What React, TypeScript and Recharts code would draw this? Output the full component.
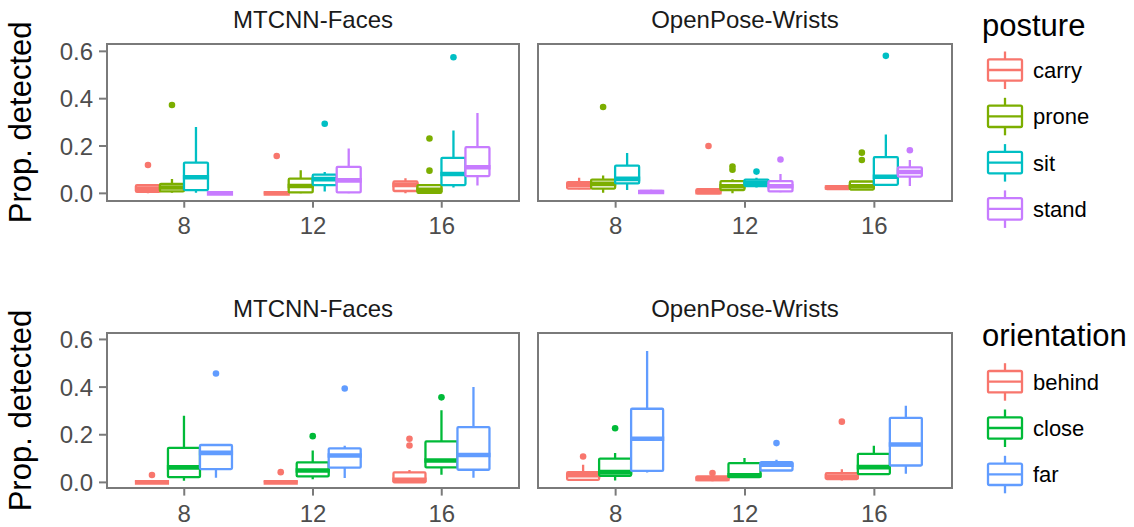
import { Bar, BarChart, XAxis, YAxis } from 'recharts';

// lower whisker, q1, median, q3, upper whisker, outliers
type Box = [number, number, number, number, number, number[]];

const AGES = ['8', '12', '16'];
const PANELS = ['MTCNN-Faces', 'OpenPose-Wrists'];
const Y_TICKS = [0, 0.2, 0.4, 0.6];

const POSTURES = ['carry', 'prone', 'sit', 'stand'];
const POSTURE_COLORS = ['#F8766D', '#7CAE00', '#00BFC4', '#C77CFF'];
const ORIENTATIONS = ['behind', 'close', 'far'];
const ORIENTATION_COLORS = ['#F8766D', '#00BA38', '#619CFF'];

// MTCNN-Faces by posture
const FACES_CARRY: Box[] = [
  [0, 0.006, 0.02, 0.035, 0.04, [0.12]],
  [0, 0, 0, 0.002, 0.003, [0.158]],
  [0, 0.01, 0.035, 0.05, 0.064, []],
];
const FACES_PRONE: Box[] = [
  [0.003, 0.008, 0.025, 0.04, 0.061, [0.373]],
  [0, 0.004, 0.031, 0.062, 0.098, []],
  [0, 0.002, 0.015, 0.035, 0.04, [0.096, 0.232]],
];
const FACES_SIT: Box[] = [
  [0.003, 0.014, 0.068, 0.13, 0.28, []],
  [0.008, 0.035, 0.06, 0.079, 0.09, [0.294]],
  [0.025, 0.035, 0.082, 0.15, 0.266, [0.575]],
];
const FACES_STAND: Box[] = [
  [0, 0, 0, 0.002, 0.003, []],
  [0, 0.004, 0.055, 0.112, 0.19, []],
  [0.033, 0.073, 0.11, 0.195, 0.339, []],
];

// OpenPose-Wrists by posture
const WRISTS_CARRY: Box[] = [
  [0.017, 0.02, 0.035, 0.047, 0.066, []],
  [0, 0, 0.005, 0.018, 0.02, [0.2]],
  [0.015, 0.018, 0.025, 0.03, 0.032, []],
];
const WRISTS_PRONE: Box[] = [
  [0.003, 0.02, 0.04, 0.058, 0.075, [0.365]],
  [0, 0.014, 0.03, 0.052, 0.06, [0.1, 0.113]],
  [0.014, 0.016, 0.03, 0.05, 0.05, [0.141, 0.172]],
];
const WRISTS_SIT: Box[] = [
  [0.014, 0.042, 0.061, 0.117, 0.17, []],
  [0.025, 0.031, 0.045, 0.058, 0.066, [0.092]],
  [0.034, 0.036, 0.07, 0.153, 0.249, [0.581]],
];
const WRISTS_STAND: Box[] = [
  [0, 0.002, 0.006, 0.01, 0.015, []],
  [0.005, 0.008, 0.03, 0.052, 0.082, [0.143]],
  [0.031, 0.071, 0.09, 0.11, 0.141, [0.182]],
];

// MTCNN-Faces by orientation
const FACES_BEHIND: Box[] = [
  [0, 0, 0, 0.005, 0.005, [0.031]],
  [0, 0, 0, 0.005, 0.005, [0.043]],
  [0, 0, 0.011, 0.042, 0.052, [0.155, 0.183]],
];
const FACES_CLOSE: Box[] = [
  [0.007, 0.022, 0.063, 0.145, 0.28, []],
  [0.013, 0.025, 0.05, 0.084, 0.134, [0.194]],
  [0.032, 0.063, 0.092, 0.172, 0.303, [0.357]],
];
const FACES_FAR: Box[] = [
  [0.02, 0.056, 0.124, 0.157, 0.157, [0.457]],
  [0.018, 0.062, 0.113, 0.143, 0.154, [0.394]],
  [0.02, 0.053, 0.115, 0.232, 0.4, []],
];

// OpenPose-Wrists by orientation
const WRISTS_BEHIND: Box[] = [
  [0.008, 0.011, 0.03, 0.043, 0.074, [0.109]],
  [0.005, 0.01, 0.015, 0.025, 0.025, [0.039]],
  [0.008, 0.014, 0.025, 0.039, 0.055, [0.255]],
];
const WRISTS_CLOSE: Box[] = [
  [0.008, 0.028, 0.043, 0.1, 0.123, [0.227]],
  [0.022, 0.022, 0.03, 0.081, 0.102, []],
  [0.035, 0.035, 0.064, 0.12, 0.154, []],
];
const WRISTS_FAR: Box[] = [
  [0.042, 0.048, 0.183, 0.309, 0.551, []],
  [0.05, 0.05, 0.074, 0.085, 0.095, [0.165]],
  [0.036, 0.071, 0.159, 0.271, 0.322, []],
];

const FONT = "'Liberation Sans', Arial, Helvetica, sans-serif";
const GREY = '#7a7a7a';
const TICK_TEXT = '#4d4d4d';
const BORDER = 2;
const BOX_LINE = 2.3;

// plot rectangles (px)
const COL_X = [107, 538];
const COL_W = [412, 414];
const ROW_Y = [44, 332.7];
const ROW_H = [156.7, 155.6];
const Y_DOMAINS: [number, number][] = [
  [-0.031, 0.631],
  [-0.026, 0.627],
];

function BoxShape(props: any) {
  const { x, y, width, height, box, color } = props;
  if (!box) return null;
  const [lower, q1, med, q3, upper, outliers] = box as Box;
  const lo = Math.min(lower, ...outliers);
  const hi = Math.max(upper, ...outliers);
  const top = Math.min(y, y + height);
  const bottom = Math.max(y, y + height);
  const py = (v: number) => (hi > lo ? bottom - ((v - lo) / (hi - lo)) * (bottom - top) : bottom);
  const cx = x + width / 2;
  return (
    <g>
      <line x1={cx} x2={cx} y1={py(upper)} y2={py(q3)} stroke={color} strokeWidth={BOX_LINE} />
      <line x1={cx} x2={cx} y1={py(q1)} y2={py(lower)} stroke={color} strokeWidth={BOX_LINE} />
      {py(q1) - py(q3) > 0.01 && (
        <rect
          x={x}
          y={py(q3)}
          width={width}
          height={py(q1) - py(q3)}
          fill="#fff"
          stroke={color}
          strokeWidth={BOX_LINE}
          rx={1}
        />
      )}
      <line x1={x - 1.1} x2={x + width + 1.1} y1={py(med)} y2={py(med)} stroke={color} strokeWidth={4.6} />
      {outliers.map((o, i) => (
        <circle key={i} cx={cx} cy={py(o)} r={3.3} fill={color} />
      ))}
    </g>
  );
}

function Panel({
  col,
  row,
  names,
  colors,
  series,
}: {
  col: number;
  row: number;
  names: string[];
  colors: string[];
  series: Box[][];
}) {
  const data = AGES.map((t, i) => {
    const r: Record<string, any> = { t };
    names.forEach((n, j) => {
      r[n] = series[j][i];
    });
    return r;
  });
  const showY = col === 0;
  const M = 10;
  const plotX = COL_X[col];
  const plotW = COL_W[col];
  const plotY = ROW_Y[row];
  const plotH = ROW_H[row];
  const axisW = showY ? plotX - M : 0;
  const xAxisH = 50;
  const width = M + axisW + plotW + M;
  const height = M + plotH + xAxisH;
  const pad = plotW / 32;
  const tickLine = { stroke: GREY, strokeWidth: BORDER };

  return (
    <>
      <div style={{ position: 'absolute', left: plotX - M - axisW, top: plotY - M }}>
        <BarChart
          width={width}
          height={height}
          data={data}
          margin={{ top: M, right: M, bottom: 0, left: M }}
          barCategoryGap="12.5%"
          barGap={0}
        >
          <XAxis
            dataKey="t"
            type="category"
            padding={{ left: pad, right: pad }}
            height={xAxisH}
            axisLine={false}
            tickLine={tickLine}
            tickSize={7}
            tickMargin={9}
            tick={{ fontSize: 24, fill: TICK_TEXT, fontFamily: FONT }}
          />
          <YAxis
            type="number"
            domain={Y_DOMAINS[row]}
            ticks={Y_TICKS}
            allowDataOverflow
            width={axisW}
            axisLine={false}
            tickLine={showY ? tickLine : false}
            tick={showY ? { fontSize: 24, fill: TICK_TEXT, fontFamily: FONT } : false}
            tickSize={8}
            tickMargin={6}
            tickFormatter={(v: number) => v.toFixed(1)}
          />
          {names.map((n, j) => (
            <Bar
              key={n}
              dataKey={(r: any) => {
                const b: Box = r[n];
                return [Math.min(b[0], ...b[5]), Math.max(b[4], ...b[5])];
              }}
              fill="none"
              isAnimationActive={false}
              shape={(p: any) => <BoxShape {...p} box={p.payload?.[n]} color={colors[j]} />}
            />
          ))}
        </BarChart>
      </div>
      <div
        style={{
          position: 'absolute',
          left: plotX - BORDER / 2,
          top: plotY - BORDER / 2,
          width: plotW + BORDER,
          height: plotH + BORDER,
          border: `${BORDER}px solid ${GREY}`,
          boxSizing: 'border-box',
          pointerEvents: 'none',
        }}
      />
    </>
  );
}

function LegendKey({ cx, cy, color }: { cx: number; cy: number; color: string }) {
  return (
    <g>
      <line x1={cx} x2={cx} y1={cy - 18.5} y2={cy + 19} stroke={color} strokeWidth={BOX_LINE} />
      <rect x={cx - 17} y={cy - 10.7} width={34} height={21.4} rx={1.5} fill="#fff" stroke={color} strokeWidth={BOX_LINE} />
      <line x1={cx - 17} x2={cx + 17} y1={cy} y2={cy} stroke={color} strokeWidth={BOX_LINE} />
    </g>
  );
}

function Legend({
  title,
  titleY,
  firstY,
  names,
  colors,
}: {
  title: string;
  titleY: number;
  firstY: number;
  names: string[];
  colors: string[];
}) {
  return (
    <g fontFamily={FONT}>
      <text x={982} y={titleY} fontSize={31} fill="#000">
        {title}
      </text>
      {names.map((n, i) => {
        const cy = firstY + i * 46.3;
        return (
          <g key={n}>
            <LegendKey cx={1005} cy={cy} color={colors[i]} />
            <text x={1033} y={cy + 8} fontSize={22} fill="#000">
              {n}
            </text>
          </g>
        );
      })}
    </g>
  );
}

export default function App() {
  return (
    <div style={{ position: 'relative', width: 1134, height: 527, background: '#fff', overflow: 'hidden' }}>
      <style>{`body{margin:0}`}</style>
      <Panel col={0} row={0} names={POSTURES} colors={POSTURE_COLORS} series={[FACES_CARRY, FACES_PRONE, FACES_SIT, FACES_STAND]} />
      <Panel col={1} row={0} names={POSTURES} colors={POSTURE_COLORS} series={[WRISTS_CARRY, WRISTS_PRONE, WRISTS_SIT, WRISTS_STAND]} />
      <Panel col={0} row={1} names={ORIENTATIONS} colors={ORIENTATION_COLORS} series={[FACES_BEHIND, FACES_CLOSE, FACES_FAR]} />
      <Panel col={1} row={1} names={ORIENTATIONS} colors={ORIENTATION_COLORS} series={[WRISTS_BEHIND, WRISTS_CLOSE, WRISTS_FAR]} />
      <svg
        width={1134}
        height={527}
        style={{ position: 'absolute', left: 0, top: 0, pointerEvents: 'none' }}
        fontFamily={FONT}
      >
        {ROW_Y.map((ry, r) =>
          PANELS.map((p, c) => (
            <text key={`${r}-${c}`} x={COL_X[c] + COL_W[c] / 2} y={ry - 16} fontSize={24} fill="#1a1a1a" textAnchor="middle">
              {p}
            </text>
          )),
        )}
        {ROW_Y.map((ry, r) => (
          <text
            key={r}
            transform={`translate(31, ${ry + ROW_H[r] / 2}) rotate(-90)`}
            fontSize={31}
            fill="#000"
            textAnchor="middle"
          >
            Prop. detected
          </text>
        ))}
        <Legend title="posture" titleY={36} firstY={70} names={POSTURES} colors={POSTURE_COLORS} />
        <Legend title="orientation" titleY={346} firstY={381.7} names={ORIENTATIONS} colors={ORIENTATION_COLORS} />
      </svg>
    </div>
  );
}
